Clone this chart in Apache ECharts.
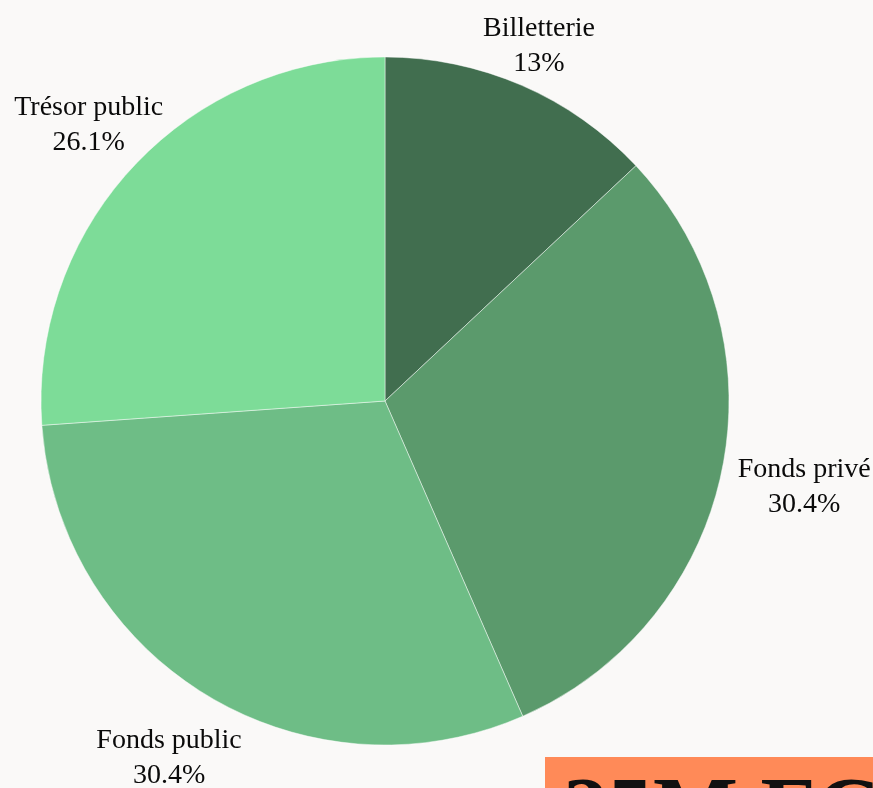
<!DOCTYPE html>
<html>
<head>
<meta charset="utf-8">
<script src="https://cdn.jsdelivr.net/npm/echarts@6/dist/echarts.min.js"></script>
<style>
  html, body { margin: 0; padding: 0; background: #faf9f8; }
  #main { width: 873px; height: 788px; }
</style>
</head>
<body>
<div id="main"></div>
<script>
var categories = ['Billetterie', 'Fonds privé', 'Fonds public', 'Trésor public'];
var shares = [13, 30.4, 30.4, 26.1];
var sliceColors = ['#416e4f', '#5b9a6c', '#6ebd86', '#7ddc98'];

var cx = 385, cy = 401, R = 344;

// mid angle of each slice (clockwise from top), used to place labels
var total = 0;
shares.forEach(function (v) { total += v; });
var midAngles = [];
var acc = 0;
shares.forEach(function (v) {
    midAngles.push((acc + v / 2) / total * 2 * Math.PI);
    acc += v;
});

var chart = echarts.init(document.getElementById('main'));

var option = {
    backgroundColor: '#faf9f8',
    animation: false,
    graphic: [
        {
            type: 'rect',
            shape: { x: 545, y: 757, width: 340, height: 40 },
            style: { fill: '#ff8a58' }
        },
        {
            type: 'text',
            x: 563,
            y: 772,
            style: {
                text: '25M FCFA',
                font: 'bold 90px "Liberation Serif"',
                fill: '#111',
                textVerticalAlign: 'top'
            }
        }
    ],
    series: [{
        type: 'pie',
        center: [cx, cy],
        radius: R,
        startAngle: 90,
        clockwise: true,
        data: categories.map(function (name, i) {
            return { name: name, value: shares[i], itemStyle: { color: sliceColors[i] } };
        }),
        itemStyle: {
            borderColor: 'rgba(255,255,255,0.45)',
            borderWidth: 1
        },
        label: {
            show: true,
            position: 'outside',
            formatter: '{b}\n{c}%',
            fontFamily: '"Liberation Serif", serif',
            fontSize: 28,
            lineHeight: 35,
            color: '#0a0a0a',
            overflow: 'none'
        },
        labelLine: { show: false },
        labelLayout: function (params) {
            var a = midAngles[params.dataIndex];
            var ux = Math.sin(a), uy = -Math.cos(a);
            var d = R + 39 + 43 * Math.abs(ux) + 14 * uy;
            return {
                x: cx + ux * d,
                y: cy + uy * d,
                align: 'center',
                verticalAlign: 'middle',
                width: 200
            };
        },
        emphasis: { disabled: true }
    }]
};

chart.setOption(option);
</script>
</body>
</html>
